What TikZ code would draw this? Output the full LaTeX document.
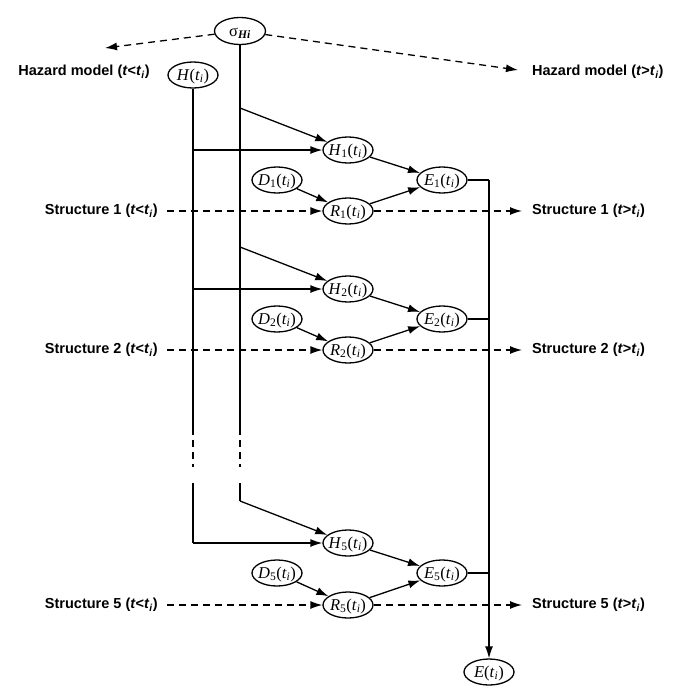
\documentclass[tikz,border=0pt]{standalone}
\usepackage{fontspec}
\setmainfont{Liberation Serif}
\newfontfamily\lblfont{Liberation Sans}
\usetikzlibrary{arrows.meta,shapes.geometric}

% variable names such as H_1(t_i)
\newcommand\tsub[1]{\textsubscript{#1}}
\newcommand\varname[2]{\textit{#1}\tsub{#2}(\textit{t}\tsub{\textit{i}})}
\newcommand\beforeti{(\textit{t}<\textit{t}\tsub{\textit{i}})}
\newcommand\afterti{(\textit{t}>\textit{t}\tsub{\textit{i}})}
% text that may run wider than its ellipse; the ellipse keeps its own size
\newcommand\intext[1]{\makebox[0pt]{\raisebox{-.32em}[0pt][0pt]{#1}}}

\tikzset{
  var/.style={ellipse, draw, line width=1.3pt, minimum width=50pt, minimum height=26pt,
              inner sep=0pt, font=\fontsize{16.5}{19}\selectfont},
  lbl/.style={inner sep=0pt, font=\lblfont\bfseries\fontsize{14.5}{16}\selectfont},
  wire/.style={line width=1.3pt},
  link/.style={wire, -{Latex[length=12pt,width=8pt]}},
  dashlink/.style={link, dash pattern=on 7pt off 5pt},
  dashwire/.style={wire, dash pattern=on 7pt off 5pt},
}

\begin{document}
\begin{tikzpicture}[x=1pt, y=-1pt]
\useasboundingbox (0,0) rectangle (689,686);

% top level nodes
\node[var, minimum width=51pt, minimum height=27pt] (sig) at (240,31)
  {\intext{σ\tsub{\textbf{\textit{Hi}}}}};
\node[var] (H) at (193,75) {\intext{\textit{H}(\textit{t}\tsub{\textit{i}})}};

\coordinate (hzL) at (105,48);
\coordinate (hzR) at (518,70);
\node[lbl, anchor=east] (hzLtxt) at (150,72) {Hazard model \beforeti};
\node[lbl, anchor=west] (hzRtxt) at (532,72) {Hazard model \afterti};
\draw[dashlink] (sig) -- (hzL);
\draw[dashlink] (sig) -- (hzR);

% the three structures
\foreach \k/\yh/\ye/\yr in {1/150/180/211, 2/289/319/350, 5/543/573/605}{
  \node[var] (H\k) at (348,\yh) {\intext{\varname{H}{\k}}};
  \node[var] (D\k) at (277,\ye) {\intext{\varname{D}{\k}}};
  \node[var] (E\k) at (442,\ye) {\intext{\varname{E}{\k}}};
  \node[var] (R\k) at (348,\yr) {\intext{\varname{R}{\k}}};
  \node[lbl, anchor=east] (SL\k) at (158,\yr) {Structure \k\ \beforeti};
  \node[lbl, anchor=west] (SR\k) at (532,\yr) {Structure \k\ \afterti};
  \coordinate (inL\k) at (167,\yr);
  \coordinate (outR\k) at (522,\yr);
  \coordinate (hb\k) at (193,\yh);
  \coordinate (sb\k) at (240,\yh-42);
  \coordinate (eb\k) at (489,\ye);
  \draw[dashlink] (inL\k) -- (R\k);
  \draw[dashlink] (R\k) -- (outR\k);
  \draw[link] (D\k) -- (R\k);
  \draw[link] (H\k) -- (E\k);
  \draw[link] (R\k) -- (E\k);
  \draw[link] (sb\k) -- (H\k);
  \draw[link] (hb\k) -- (H\k);
  \draw[wire] (E\k) -- (eb\k);
}

% trunks from sigma_Hi and H(t_i), broken between structures 2 and 5
\coordinate (sA) at (240,428);
\coordinate (sB) at (240,467);
\coordinate (sC) at (240,483);
\coordinate (hA) at (193,428);
\coordinate (hB) at (193,467);
\coordinate (hC) at (193,483);
\draw[wire] (sig) -- (sA);
\draw[dashwire] (sA) -- (sB);
\draw[wire] (sC) -- (sb5);
\draw[wire] (H) -- (hA);
\draw[dashwire] (hA) -- (hB);
\draw[wire] (hC) -- (hb5);

% collecting line to E(t_i)
\node[var] (E) at (489,672) {\intext{\textit{E}(\textit{t}\tsub{\textit{i}})}};
\draw[link] (eb1) -- (E);
\end{tikzpicture}
\end{document}
